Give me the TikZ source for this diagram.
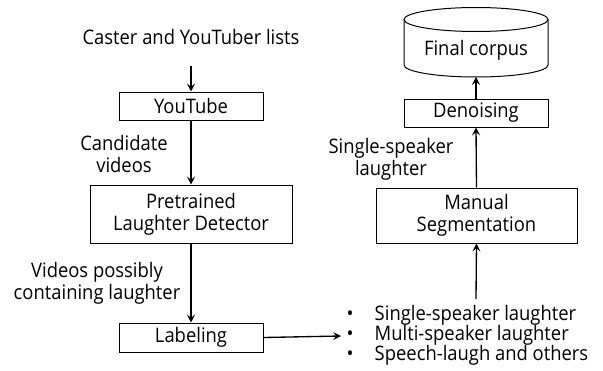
\documentclass[tikz,border=0pt]{standalone}
\usepackage{fontspec}
\setmainfont[FakeStretch=0.92]{Open Sans}
\usetikzlibrary{arrows.meta}
\begin{document}
\begin{tikzpicture}[x=0.75pt,y=-0.75pt,
  every node/.style={font=\fontsize{15pt}{16.5pt}\selectfont, inner sep=0pt},
  box/.style={draw, line width=0.75pt, minimum width=#1*0.75pt},
  lbl/.style={align=center},
  arr/.style={-{Stealth[length=6pt,width=6pt,inset=2.5pt]}, line width=1pt},
  line width=0.75pt]
\useasboundingbox (0,0) rectangle (603,371);
% left column
\node (lists) at (191,37) {Caster and YouTuber lists};
\node[box=144, minimum height=28*0.75pt] (yt) at (191,106) {YouTube};
\node[box=202, minimum height=58*0.75pt, align=center] (ptd) at (191,214) {Pretrained\\Laughter Detector};
\node[box=144, minimum height=29*0.75pt] (lab) at (191,337.5) {Labeling};
\node[lbl] (cand) at (124,154) {Candidate\\videos};
\node[lbl] (vid) at (97,283) {Videos possibly\\containing laughter};
\coordinate (listsb) at (191,66);
\draw[arr] (listsb) -- (yt.north);
\draw[arr] (yt.south) -- (ptd.north);
\draw[arr] (ptd.south) -- (lab.north);
% right column
\node[box=144, minimum height=28*0.75pt] (den) at (476,113) {Denoising};
\node[box=201, minimum height=55*0.75pt, align=center] (man) at (476.5,215.5) {Manual\\Segmentation};
\node[lbl] (ssl) at (391,159) {Single-speaker\\laughter};
% cylinder
\draw (404,19.5) -- (404,65) arc[start angle=180, end angle=0, x radius=72, y radius=12] -- (548,19.5);
\draw (476,19.5) ellipse[x radius=72, y radius=12];
\node (fc) at (476,50) {Final corpus};
\coordinate (cylb) at (476,77);
\draw[arr] (den.north) -- (cylb);
\draw[arr] (man.north) -- (den.south);
% list
\node[anchor=west, align=left] (cls) at (346,336) {%
  \begin{tabular}{@{}l@{\hspace{16pt}}l@{}}
  \textbullet & Single-speaker laughter\\[-1.5pt]
  \textbullet & Multi-speaker laughter\\[-1.5pt]
  \textbullet & Speech-laugh and others
  \end{tabular}};
\coordinate (clsin) at (341,336);
\coordinate (clst) at (476,299);
\draw[arr] (lab.east) -- (clsin);
\draw[arr] (clst) -- (man.south);
\end{tikzpicture}
\end{document}
